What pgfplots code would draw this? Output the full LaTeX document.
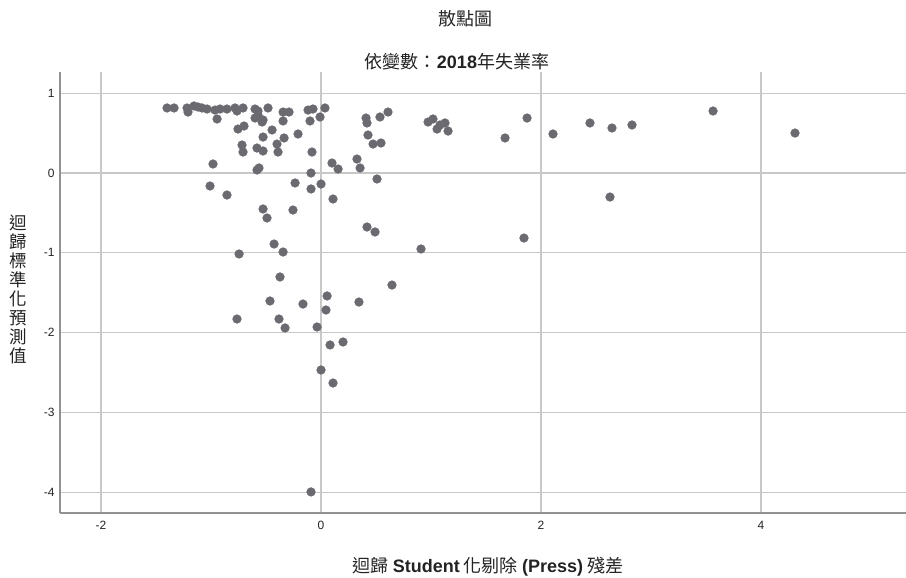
\documentclass[border=0pt]{standalone}
\usepackage{pgfplots}
\pgfplotsset{compat=1.18}
\usepackage{fontspec}
\setmainfont{Liberation Sans}
\newfontfamily\cjk{Noto Sans CJK TC}

\definecolor{dotgray}{RGB}{106,106,112}
\definecolor{gridgray}{RGB}{200,200,200}
\definecolor{axisgray}{RGB}{145,145,145}
\definecolor{textgray}{RGB}{35,35,35}

\begin{document}
\begin{tikzpicture}[x=1pt,y=1pt]
\path[use as bounding box] (0,0) rectangle (906,578);

\begin{axis}[
  at={(60pt,65pt)}, anchor=south west,
  scale only axis,
  width=846pt, height=441pt,
  xmin=-2.373, xmax=5.318,
  ymin=-4.261, ymax=1.266,
  xtick={-2,0,2,4}, ytick={-4,-3,-2,-1,0,1},
  axis x line*=bottom, axis y line*=left,
  axis line style={axisgray, line width=1.6pt},
  major tick length=0pt,
  grid=major,
  major grid style={gridgray, line width=1.3pt},
  tick label style={font=\fontsize{12}{14}\selectfont, text=textgray},
  /pgf/number format/assume math mode=true,
  xticklabel style={yshift=-5pt},
  yticklabel style={xshift=-2pt},
  clip=false,
]
\addplot[only marks, mark=*, color=dotgray, mark size=4.5pt,
  mark options={fill=dotgray, draw=dotgray, line width=0.1pt}] table {
x y
-1.400 0.815
-1.336 0.815
-1.218 0.815
-1.209 0.764
-1.155 0.840
-1.118 0.827
-1.082 0.815
-1.036 0.802
-0.964 0.789
-0.918 0.802
-0.855 0.802
-0.782 0.815
-0.764 0.777
-0.709 0.815
-0.600 0.802
-0.573 0.777
-0.482 0.815
-0.945 0.677
-0.600 0.689
-0.536 0.639
-0.573 0.727
-0.527 0.664
-0.345 0.764
-0.291 0.764
-0.345 0.652
-0.118 0.789
-0.073 0.802
0.036 0.815
-0.100 0.652
-0.009 0.702
-0.755 0.551
-0.700 0.589
-0.445 0.539
-0.527 0.451
-0.336 0.439
-0.209 0.489
-0.718 0.351
-0.709 0.263
-0.582 0.313
-0.527 0.276
-0.400 0.363
-0.391 0.263
-0.082 0.263
-0.982 0.113
-0.582 0.038
-0.564 0.063
-0.091 0.000
-1.009 -0.163
-0.855 -0.276
-0.236 -0.125
-0.091 -0.200
0.000 -0.138
0.109 -0.326
0.409 0.689
0.418 0.627
0.536 0.702
0.609 0.764
0.427 0.476
0.473 0.363
0.545 0.376
0.973 0.639
1.018 0.677
1.055 0.551
1.082 0.602
1.127 0.627
1.155 0.526
0.100 0.125
0.155 0.050
0.327 0.175
0.355 0.063
0.509 -0.075
1.673 0.439
1.873 0.689
2.109 0.489
2.445 0.627
2.645 0.564
2.827 0.602
3.564 0.777
4.309 0.501
2.627 -0.301
-0.527 -0.451
-0.491 -0.564
-0.255 -0.464
-0.427 -0.890
-0.345 -0.990
-0.745 -1.015
0.418 -0.677
0.491 -0.739
0.909 -0.952
1.845 -0.815
-0.373 -1.303
0.645 -1.404
0.055 -1.541
-0.464 -1.604
-0.164 -1.642
0.045 -1.717
0.345 -1.617
-0.764 -1.830
-0.382 -1.830
-0.327 -1.942
-0.036 -1.930
0.082 -2.155
0.200 -2.118
0.000 -2.469
0.109 -2.632
-0.091 -3.997
};
\end{axis}

% titles and axis labels
\node[text=textgray, font=\cjk\fontsize{18}{20}\selectfont] at (465,559) {散點圖};
\node[text=textgray, font=\cjk\fontsize{18}{20}\selectfont] at (457,516)
  {依變數：{\rmfamily\bfseries 2018}年失業率};
\node[text=textgray, font=\cjk\fontsize{18}{20}\selectfont] at (488,11)
  {迴歸 {\rmfamily\bfseries Student} 化剔除 {\rmfamily\bfseries (Press)} 殘差};
\node[text=textgray, font=\cjk\fontsize{17.5}{19.5}\selectfont, align=center] at (18,289)
  {迴\\[-0.5pt]歸\\[-0.5pt]標\\[-0.5pt]準\\[-0.5pt]化\\[-0.5pt]預\\[-0.5pt]測\\[-0.5pt]值};
\end{tikzpicture}
\end{document}
